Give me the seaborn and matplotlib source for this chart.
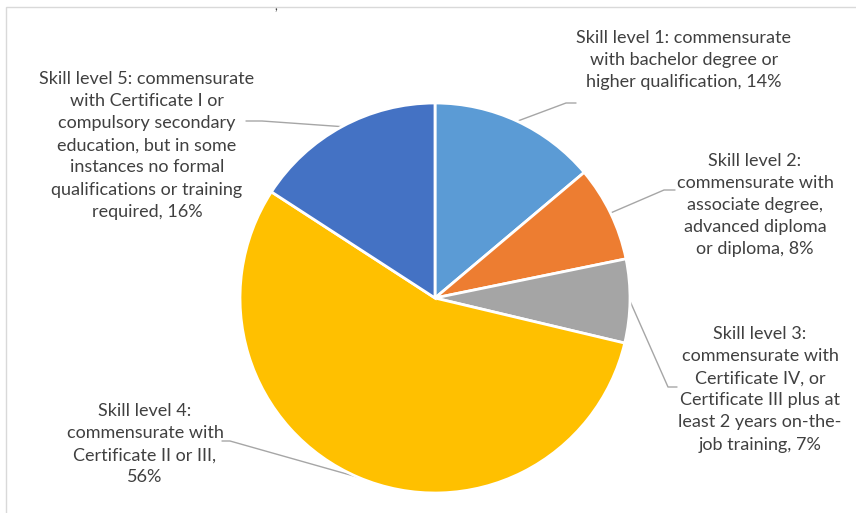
import numpy as np
import matplotlib
matplotlib.use("Agg")
import matplotlib.pyplot as plt
import matplotlib.patches as mpatches
import seaborn as sns

# Data
labels = [
    "Skill level 1: commensurate\nwith bachelor degree or\nhigher qualification, 14%",
    "Skill level 2:\ncommensurate with\nassociate degree,\nadvanced diploma\nor diploma, 8%",
    "Skill level 3:\ncommensurate with\nCertificate IV, or\nCertificate III plus at\nleast 2 years on-the-\njob training, 7%",
    "Skill level 4:\ncommensurate with\nCertificate II or III,\n56%",
    "Skill level 5: commensurate\nwith Certificate I or\ncompulsory secondary\neducation, but in some\ninstances no formal\nqualifications or training\nrequired, 16%",
]
shares = [14, 8, 7, 56, 16]
colors = ["#5B9BD5", "#ED7D31", "#A5A5A5", "#FFC000", "#4472C4"]

sns.set_style("white")
plt.rcParams["font.family"] = ["Lato", "DejaVu Sans"]

W, H = 856, 513
fig = plt.figure(figsize=(W / 100, H / 100), dpi=100)
ax = fig.add_axes([0, 0, 1, 1])

cx, cy, r = 435, H - 298, 195
wedges, _ = ax.pie(shares, colors=colors, startangle=90, counterclock=False,
                   center=(cx, cy), radius=r,
                   wedgeprops=dict(edgecolor="white", linewidth=2))
ax.set_xlim(0, W)
ax.set_ylim(0, H)
ax.set_aspect("equal")
ax.axis("off")

# label layout (image pixels, y from top): text centre x, top y, elbow, line end
layout = [
    (684, 30, (566, 103), (576, 103)),
    (755, 153, (664, 190), (675, 190)),
    (760, 326, (668, 387), (677, 387)),
    (145, 403, (230, 441), (222, 441)),
    (147, 71, (262, 121), (246, 121)),
]

for w, lab, (tx, ty, elbow, end) in zip(wedges, labels, layout):
    mid = np.deg2rad((w.theta1 + w.theta2) / 2)
    sx, sy = cx + r * np.cos(mid), cy + r * np.sin(mid)
    ax.plot([sx, elbow[0], end[0]], [sy, H - elbow[1], H - end[1]],
            color="#A6A6A6", lw=1, zorder=0.5)
    ax.text(tx, H - ty, lab, ha="center", va="top", fontsize=13,
            color="#404040", linespacing=1.47)

# chart frame (cropped on right and bottom) and title fragment
fig.patches.append(mpatches.Rectangle((5.5, -10), 900, H - 6.5 + 10, fill=False,
                                      edgecolor="#D9D9D9", lw=1,
                                      transform=None, figure=fig))
ax.text(276, H - 0.5, ",", ha="center", va="top", fontsize=9, color="#404040")

fig.savefig("out.png", dpi=100)
